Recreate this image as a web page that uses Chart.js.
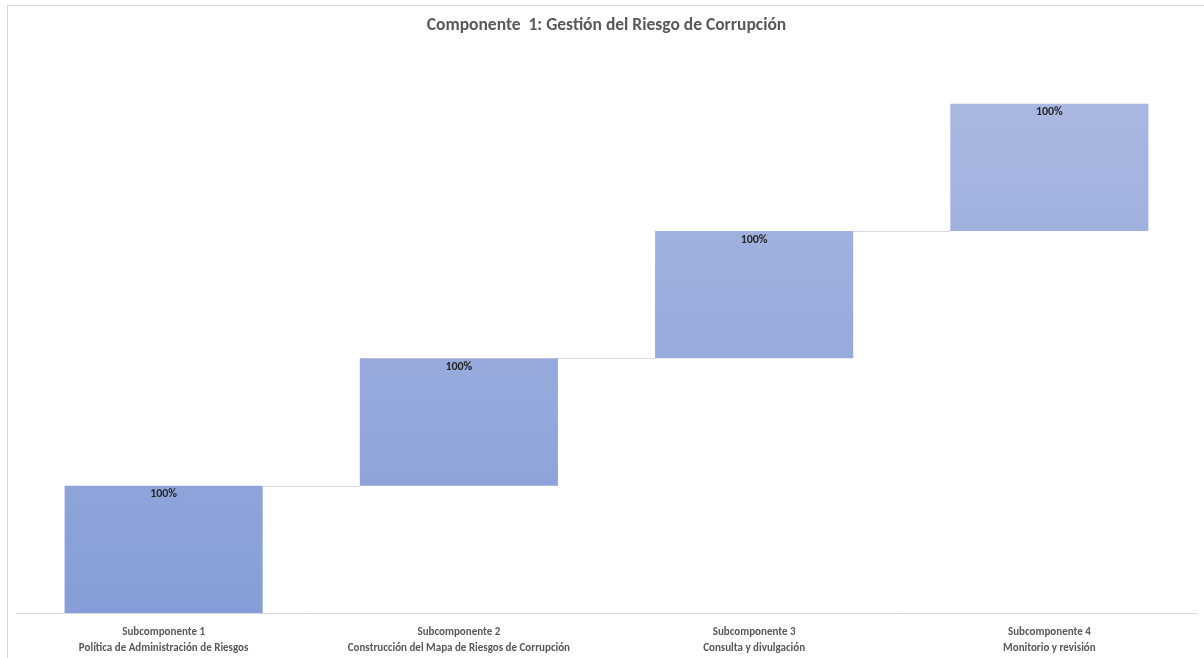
<!DOCTYPE html>
<html>
<head>
<meta charset="utf-8">
<script src="https://cdn.jsdelivr.net/npm/chart.js@4/dist/chart.umd.min.js"></script>
<style>
  html, body { margin: 0; padding: 0; background: #fff; }
  #frame { position: absolute; left: 7px; top: 5px; width: 1197px; height: 653px;
           border-left: 1px solid #d9d9d9; border-top: 1px solid #d9d9d9; box-sizing: border-box; }
  #chart { position: absolute; left: 0; top: 0; }
</style>
</head>
<body>
<div id="frame"></div>
<canvas id="chart" width="1204" height="658"></canvas>
<script>
const chartTitle = "Componente  1: Gestión del Riesgo de Corrupción";
const categories = [
  ["Subcomponente 1", "Política de Administración de Riesgos"],
  ["Subcomponente 2", "Construcción del Mapa de Riesgos de Corrupción"],
  ["Subcomponente 3", "Consulta y divulgación"],
  ["Subcomponente 4", "Monitorio y revisión"]
];
const stepValues = [1, 1, 1, 1];
const valueLabels = ["100%", "100%", "100%", "100%"];
const yMax = 4.5;

const FONT = "Carlito, 'Liberation Sans Narrow', Lato, sans-serif";

// waterfall ranges: each bar starts where the previous one ends
let running = 0;
const ranges = stepValues.map(v => {
  const r = [running, running + v];
  running += v;
  return r;
});

const waterfallExtras = {
  id: "waterfallExtras",
  afterDatasetsDraw(chart) {
    const ctx = chart.ctx;
    const meta = chart.getDatasetMeta(0);
    const y = chart.scales.y;
    ctx.save();
    // connectors between bars
    ctx.strokeStyle = "#d9d9d9";
    ctx.lineWidth = 1;
    for (let i = 0; i < meta.data.length - 1; i++) {
      const a = meta.data[i], b = meta.data[i + 1];
      const py = Math.round(y.getPixelForValue(ranges[i][1])) + 0.5;
      ctx.beginPath();
      ctx.moveTo(a.x + a.width / 2, py);
      ctx.lineTo(b.x - b.width / 2, py);
      ctx.stroke();
    }
    // value labels just below the top edge
    ctx.fillStyle = "#262626";
    ctx.font = "bold 12px " + FONT;
    ctx.textAlign = "center";
    ctx.textBaseline = "middle";
    meta.data.forEach((bar, i) => {
      const top = y.getPixelForValue(ranges[i][1]);
      ctx.fillText(valueLabels[i], bar.x, top + 8.5);
    });
    ctx.restore();
  }
};

function barGradient(context) {
  const area = context.chart.chartArea;
  if (!area) return "#97a9db";
  const g = context.chart.ctx.createLinearGradient(0, area.bottom, 0, area.top);
  g.addColorStop(0, "#869dd7");
  g.addColorStop(1, "#aebbe2");
  return g;
}

new Chart(document.getElementById("chart"), {
  type: "bar",
  data: {
    labels: categories,
    datasets: [{
      data: ranges,
      backgroundColor: barGradient,
      borderWidth: 0,
      categoryPercentage: 1,
      barPercentage: 0.671
    }]
  },
  options: {
    responsive: false,
    animation: false,
    layout: { padding: { left: 16, right: 7, top: 0, bottom: 0 } },
    plugins: {
      legend: { display: false },
      tooltip: { enabled: false },
      title: {
        display: true,
        text: chartTitle,
        color: "#595959",
        font: { family: FONT, size: 17.5, weight: "bold", lineHeight: 1.2 },
        padding: { top: 15, bottom: 4 }
      }
    },
    scales: {
      x: {
        grid: { display: false, drawTicks: false },
        border: { display: true, color: "#d9d9d9", width: 1 },
        ticks: {
          color: "#595959",
          padding: 11,
          maxRotation: 0,
          autoSkip: false,
          font: { family: FONT, size: 11, weight: "bold", lineHeight: "16px" }
        },
        afterFit(scale) { scale.height = 45; }
      },
      y: {
        display: false,
        min: 0,
        max: yMax
      }
    }
  },
  plugins: [waterfallExtras]
});
</script>
</body>
</html>
